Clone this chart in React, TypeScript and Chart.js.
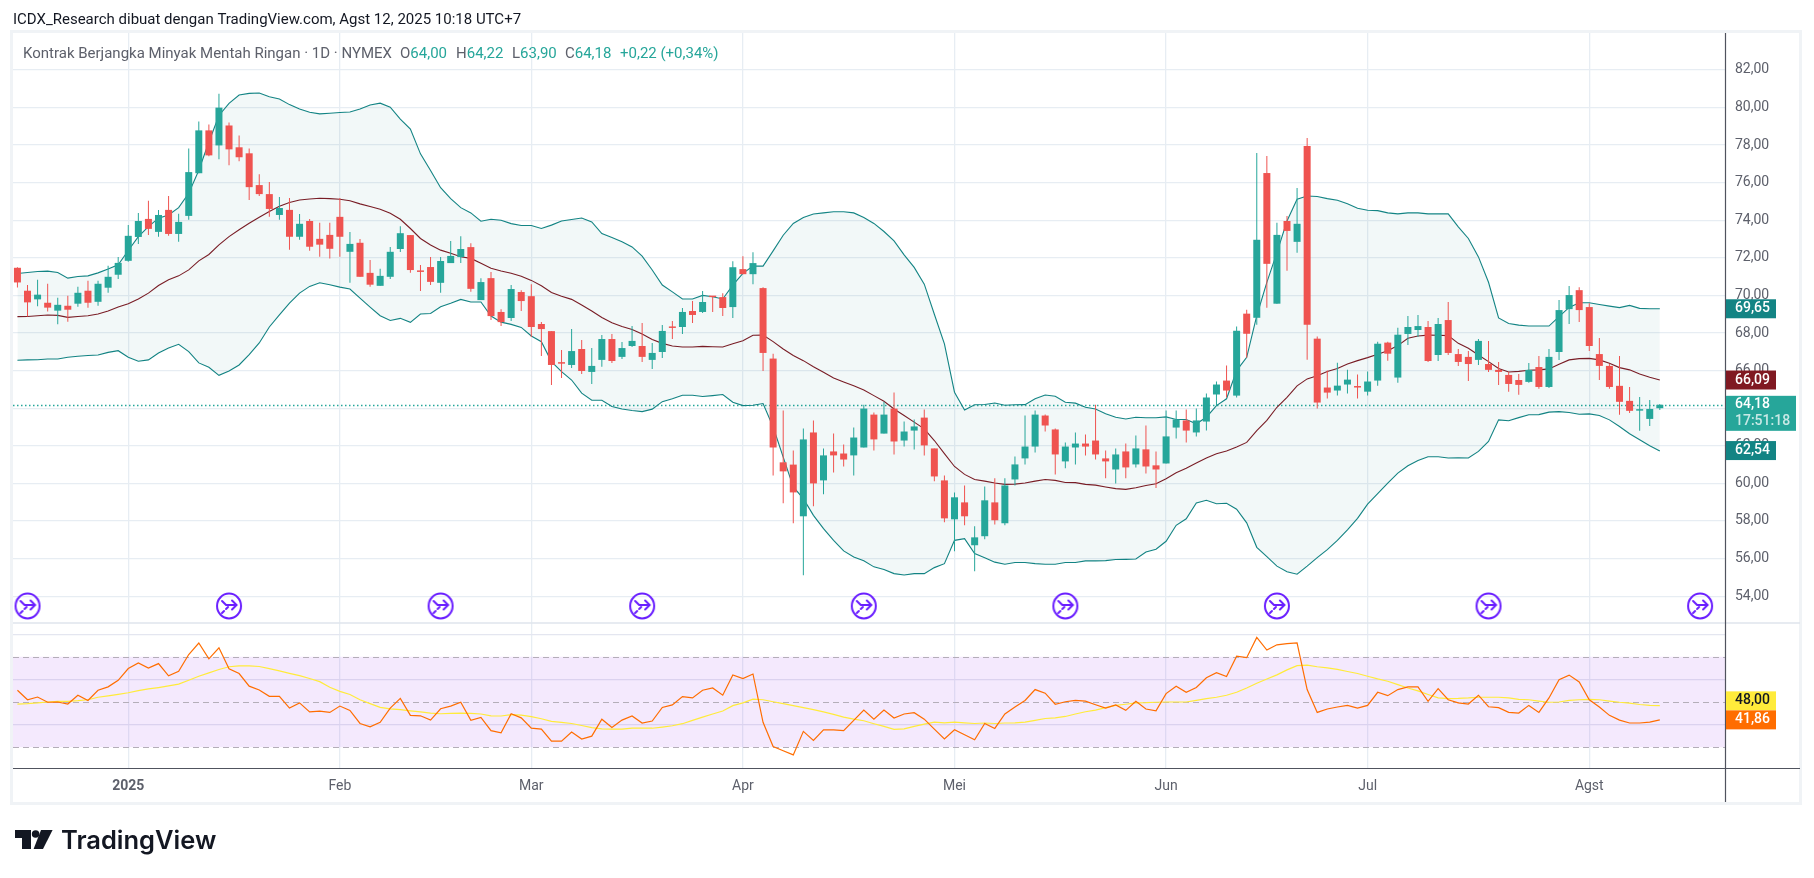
import React, { useEffect, useRef } from "react";
import { Chart, registerables } from "chart.js";

Chart.register(...registerables);

const firstBar = -11;
const monthBars = [0, 21, 40, 61, 82, 103, 123, 145];
const monthLabels = ["2025", "Feb", "Mar", "Apr", "Mei", "Jun", "Jul", "Agst"];
const priceTicks = [82, 80, 78, 76, 74, 72, 70, 68, 66, 64, 62, 60, 58, 56, 54];
const rsiTicks = [80, 60, 40];
const eventBars = [-10, 10, 31, 51, 73, 93, 114, 135, 156];
const eventPrice = 53.48;

const opens = [
  71.47, 70.25, 69.79, 69.61, 69.19, 69.45, 69.56, 70.25, 69.66, 70.41, 71.1,
  71.84, 73.11, 74.07, 73.38, 74.55, 73.27, 74.23, 76.5, 78.78, 77.98,
  79.04, 77.88, 77.56, 75.87, 75.39, 74.28, 74.55, 73.12, 73.96, 73.01,
  73.22, 74.18, 72.32, 72.8, 71.2, 70.51, 70.99, 72.47, 73.21, 71.29,
  71.51, 70.67, 71.72, 72.04, 72.57, 69.75, 70.92, 69.12, 68.8, 70.18,
  69.96, 68.48, 68.1, 66.41, 66.3, 67.15, 65.93, 66.57, 67.68, 66.73,
  67.31, 67.31, 66.57, 66.99, 68.32, 68.32, 69.17, 69.12, 69.96, 69.91,
  69.38, 71.4, 71.13, 70.39, 66.64, 61.12, 61.0, 58.25, 62.71, 60.16,
  61.7, 61.59, 61.49, 61.91, 63.66, 62.65, 63.98, 62.28, 62.81, 63.5,
  61.86, 60.16, 58.09, 58.99, 56.71, 57.19, 58.99, 57.88, 60.21, 61.33,
  61.96, 63.61, 62.87, 61.17, 61.91, 62.12, 62.28, 61.33, 60.74, 61.7,
  61.01, 61.81, 60.96, 61.06, 62.97, 63.35, 62.71, 63.29, 64.73, 65.47,
  64.67, 69.03, 68.81, 76.51, 69.56, 73.96, 72.85, 77.95, 67.7, 65.1,
  64.94, 65.26, 65.15, 64.88, 65.47, 67.49, 65.63, 67.95, 68.16, 68.32,
  66.83, 68.69, 66.88, 66.73, 66.57, 66.35, 66.04, 65.77, 65.5, 65.4,
  66.19, 65.13, 66.99, 69.27, 70.28, 69.38, 66.88, 66.25, 65.19, 64.39,
  63.87, 63.43, 64.0,
];
const highs = [
  71.5, 70.55, 70.83, 70.62, 69.88, 69.98, 70.46, 70.78, 70.78, 71.58, 72.05,
  73.75, 74.39, 75.03, 74.55, 75.29, 74.34, 77.82, 79.25, 79.09, 80.73,
  79.2, 78.51, 77.82, 76.45, 76.03, 75.23, 75.18, 74.33, 74.07, 73.86,
  73.86, 75.18, 73.38, 73.0, 71.89, 71.42, 72.58, 73.68, 73.21, 71.62,
  72.04, 72.04, 72.89, 73.15, 72.78, 70.92, 71.24, 69.27, 70.55, 70.28,
  70.6, 68.58, 68.1, 67.1, 68.21, 67.63, 67.2, 67.89, 67.95, 67.52,
  68.37, 68.53, 67.47, 68.42, 68.64, 69.33, 69.7, 70.23, 69.96, 70.12,
  71.82, 72.09, 72.3, 70.44, 66.9, 63.88, 61.75, 62.92, 63.35, 61.86,
  62.65, 62.07, 62.97, 64.19, 63.77, 64.35, 64.83, 63.29, 63.4, 63.93,
  61.86, 60.42, 59.52, 59.89, 57.72, 59.84, 60.27, 60.27, 61.43, 63.61,
  63.88, 63.66, 62.92, 62.18, 62.71, 62.6, 64.19, 61.75, 61.86, 62.12,
  62.55, 63.08, 61.7, 63.88, 63.88, 63.93, 63.98, 64.78, 65.42, 66.27,
  68.34, 69.24, 77.58, 77.42, 73.86, 74.23, 75.72, 78.37, 67.81, 66.0,
  66.42, 66.05, 65.79, 65.95, 67.54, 67.54, 68.28, 68.9, 68.96, 68.64,
  68.8, 69.65, 67.15, 67.04, 67.68, 67.58, 66.46, 65.93, 65.82, 66.41,
  66.78, 67.15, 69.75, 70.5, 70.44, 69.59, 67.73, 66.35, 66.78, 65.13,
  64.6, 64.44, 64.22,
];
const lows = [
  70.42, 68.88, 69.42, 69.15, 68.46, 68.6, 69.4, 69.35, 69.45, 70.14, 70.88,
  71.79, 72.74, 73.22, 73.12, 73.17, 72.85, 74.02, 76.5, 77.4, 77.24,
  76.93, 77.14, 75.07, 75.29, 74.18, 74.02, 72.43, 72.96, 72.38, 72.06,
  71.96, 72.06, 70.67, 70.99, 70.46, 70.51, 70.88, 72.31, 71.2, 70.24,
  70.56, 70.14, 71.72, 71.72, 70.19, 69.75, 68.69, 68.37, 68.64, 69.17,
  67.79, 66.78, 65.24, 65.61, 66.14, 65.82, 65.29, 66.2, 66.41, 66.62,
  67.26, 66.46, 66.09, 66.67, 67.68, 67.95, 68.53, 69.06, 69.12, 68.9,
  68.8, 71.13, 70.6, 65.98, 60.42, 58.94, 57.88, 55.12, 58.78, 59.42,
  60.58, 60.9, 60.42, 61.91, 61.75, 62.65, 61.54, 61.96, 61.8, 61.49,
  60.11, 57.93, 56.39, 57.77, 55.33, 57.03, 57.82, 57.77, 59.89, 61.01,
  61.65, 62.76, 60.48, 60.8, 61.01, 61.49, 61.27, 60.27, 60.0, 60.27,
  60.85, 60.53, 59.76, 61.06, 62.39, 62.18, 62.5, 62.81, 64.14, 64.57,
  64.57, 66.69, 68.44, 69.35, 69.56, 71.31, 72.27, 66.58, 63.98, 64.51,
  64.67, 64.78, 64.51, 64.67, 65.2, 66.53, 65.36, 67.36, 67.79, 66.46,
  66.51, 66.83, 66.25, 65.45, 66.3, 65.93, 65.24, 64.87, 64.71, 65.35,
  65.03, 65.08, 66.57, 68.48, 68.58, 67.04, 65.5, 65.03, 63.65, 63.75,
  62.8, 63.06, 63.9,
];
const closes = [
  70.69, 69.63, 70.04, 69.35, 69.5, 69.24, 70.14, 69.61, 70.62, 70.99, 71.73,
  73.17, 73.96, 73.54, 74.28, 73.27, 73.91, 76.56, 78.78, 77.45, 79.99,
  77.77, 77.35, 75.76, 75.39, 74.6, 74.65, 73.12, 73.81, 72.59, 72.7,
  72.48, 73.12, 72.74, 70.99, 70.57, 71.04, 72.32, 73.31, 71.35, 71.25,
  70.72, 71.83, 72.1, 72.47, 70.35, 70.71, 68.9, 68.58, 70.34, 69.7,
  68.32, 68.21, 66.3, 66.37, 67.04, 65.98, 66.25, 67.68, 66.51, 67.2,
  67.58, 66.73, 66.94, 68.11, 68.27, 69.12, 68.96, 69.65, 69.91, 69.33,
  71.5, 71.13, 71.72, 66.94, 61.91, 60.64, 59.52, 62.34, 60.0, 61.49,
  61.49, 61.27, 62.44, 63.98, 62.34, 63.66, 62.23, 62.76, 63.03, 62.02,
  60.37, 58.14, 59.26, 58.25, 57.13, 59.1, 58.04, 59.89, 61.01, 61.96,
  63.66, 63.08, 61.54, 61.96, 62.12, 61.96, 61.54, 61.17, 61.54, 60.85,
  61.86, 60.9, 60.74, 62.5, 63.4, 62.81, 63.35, 64.57, 65.26, 64.94,
  68.12, 67.96, 72.96, 71.68, 73.22, 73.43, 73.81, 68.44, 64.3, 64.83,
  65.2, 65.52, 65.1, 65.42, 67.43, 66.9, 67.91, 68.32, 68.37, 66.51,
  68.48, 66.94, 66.46, 66.35, 67.58, 66.04, 65.93, 65.29, 65.24, 66.04,
  65.13, 66.73, 69.22, 70.02, 69.22, 67.31, 66.25, 65.13, 64.34, 63.86,
  63.91, 63.96, 64.18,
];
const bbUpper = [
  71.17, 71.22, 71.27, 71.29, 71.22, 70.92, 71.01, 71.04, 71.2, 71.4, 71.63,
  72.39, 73.13, 73.66, 74.11, 74.28, 74.67, 75.43, 76.66, 78.16, 79.57,
  80.22, 80.66, 80.75, 80.77, 80.57, 80.45, 80.15, 79.92, 79.74, 79.66,
  79.69, 79.73, 79.76, 79.92, 80.13, 80.23, 80.01, 79.38, 78.85, 77.53,
  76.65, 75.73, 75.15, 74.67, 74.39, 73.95, 74.05, 74.0, 73.82, 73.72,
  73.72, 73.56, 73.74, 73.96, 74.04, 74.12, 73.91, 73.29, 73.08, 72.85,
  72.58, 72.09, 71.35, 70.55, 70.19, 69.81, 69.81, 70.0, 69.93, 69.81,
  70.55, 71.17, 71.56, 71.56, 72.37, 73.2, 73.83, 74.14, 74.33, 74.39,
  74.45, 74.45, 74.39, 74.14, 73.83, 73.4, 72.9, 72.16, 71.49, 70.6,
  69.0, 67.42, 64.85, 63.91, 64.18, 64.2, 64.28, 64.16, 64.18, 64.19,
  64.5, 64.7, 64.64, 64.32, 64.27, 64.05, 63.96, 63.7, 63.52, 63.43,
  63.52, 63.49, 63.49, 63.54, 63.4, 63.4, 63.17, 63.52, 64.14, 64.5,
  66.0, 66.71, 68.92, 70.69, 72.28, 73.96, 75.12, 75.29, 75.26, 75.15,
  75.06, 74.88, 74.64, 74.53, 74.51, 74.39, 74.34, 74.39, 74.39, 74.34,
  74.34, 74.34, 73.65, 73.03, 72.05, 70.7, 68.8, 68.51, 68.42, 68.37,
  68.37, 68.37, 68.87, 69.36, 69.61, 69.61, 69.52, 69.43, 69.35, 69.47,
  69.31, 69.29, 69.29,
];
const bbBasis = [
  68.87, 68.88, 68.92, 68.96, 68.94, 68.83, 68.88, 68.92, 69.01, 69.17, 69.38,
  69.56, 69.81, 70.12, 70.53, 70.83, 71.04, 71.36, 71.84, 72.18, 72.69,
  73.13, 73.49, 73.84, 74.16, 74.46, 74.74, 74.94, 75.08, 75.13, 75.17,
  75.15, 75.12, 75.04, 74.87, 74.73, 74.58, 74.37, 74.05, 73.56, 73.03,
  72.68, 72.41, 72.24, 72.06, 71.97, 71.71, 71.44, 71.3, 71.18, 71.02,
  70.8, 70.51, 70.16, 69.96, 69.79, 69.49, 69.17, 68.83, 68.55, 68.35,
  68.19, 67.95, 67.66, 67.45, 67.31, 67.26, 67.26, 67.29, 67.27, 67.26,
  67.43, 67.59, 67.88, 67.89, 67.54, 67.15, 66.8, 66.53, 66.21, 65.91,
  65.61, 65.4, 65.2, 64.97, 64.67, 64.37, 63.96, 63.61, 63.26, 62.9,
  62.28, 61.58, 60.9, 60.48, 60.21, 60.12, 60.02, 59.95, 59.96, 60.02,
  60.12, 60.21, 60.16, 60.05, 60.04, 59.95, 59.91, 59.81, 59.72, 59.68,
  59.77, 59.89, 59.98, 60.25, 60.57, 60.8, 61.08, 61.35, 61.58, 61.72,
  61.93, 62.18, 62.81, 63.35, 64.05, 64.58, 65.19, 65.56, 65.73, 65.95,
  66.11, 66.35, 66.53, 66.69, 66.87, 67.06, 67.33, 67.72, 67.84, 67.89,
  67.88, 67.86, 67.45, 67.19, 66.83, 66.48, 66.11, 65.93, 65.96, 66.02,
  66.04, 66.09, 66.34, 66.57, 66.64, 66.65, 66.57, 66.39, 66.16, 66.04,
  65.82, 65.65, 65.5,
];
const bbLower = [
  66.55, 66.57, 66.58, 66.62, 66.62, 66.71, 66.76, 66.8, 66.83, 66.97, 67.06,
  66.71, 66.5, 66.57, 66.94, 67.2, 67.4, 67.01, 66.41, 66.18, 65.75,
  65.98, 66.3, 66.85, 67.47, 68.32, 68.97, 69.59, 70.12, 70.48, 70.67,
  70.57, 70.44, 70.34, 69.86, 69.38, 68.92, 68.67, 68.78, 68.57, 69.01,
  69.04, 69.4, 69.58, 69.79, 69.65, 69.65, 68.9, 68.58, 68.46, 68.3,
  67.84, 67.54, 66.48, 65.95, 65.5, 64.8, 64.42, 64.42, 64.09, 63.96,
  63.88, 63.82, 63.95, 64.35, 64.5, 64.69, 64.69, 64.62, 64.67, 64.73,
  64.32, 64.14, 64.16, 64.25, 63.0, 61.4, 59.81, 59.19, 58.3, 57.59,
  56.97, 56.41, 56.09, 55.88, 55.56, 55.42, 55.2, 55.13, 55.2, 55.2,
  55.52, 55.73, 56.97, 57.06, 56.27, 56.05, 55.81, 55.7, 55.79, 55.79,
  55.73, 55.7, 55.7, 55.79, 55.79, 55.88, 55.88, 55.89, 55.95, 55.96,
  55.98, 56.35, 56.5, 56.92, 57.77, 58.12, 58.96, 59.1, 58.92, 58.94,
  58.63, 57.9, 56.6, 56.1, 55.6, 55.3, 55.17, 55.6, 56.05, 56.48,
  56.97, 57.53, 58.14, 58.9, 59.45, 60.02, 60.55, 60.94, 61.22, 61.42,
  61.42, 61.35, 61.36, 61.35, 61.7, 62.23, 63.38, 63.33, 63.5, 63.65,
  63.66, 63.79, 63.82, 63.77, 63.68, 63.7, 63.61, 63.38, 63.03, 62.64,
  62.32, 62.0, 61.72,
];
const rsiValues = [
  55.2, 51, 52.2, 49.9, 50, 49.1, 53, 50.7, 55.2, 56.7, 59.6,
  64.8, 67.3, 65, 67, 61.6, 63.6, 71, 76.1, 69.1, 74,
  64.7, 62.6, 57, 55.3, 52.5, 52.5, 47.3, 49.6, 45.6, 46,
  45.4, 48.2, 46.3, 40.5, 39, 41, 47.3, 51.6, 44.1, 43.9,
  42, 47, 48.2, 49.9, 41.9, 43.2, 37.3, 36.4, 44.8, 43,
  38.4, 38, 32.7, 32.7, 36.7, 33.6, 34.9, 42.4, 38.7, 42,
  43.8, 40.7, 41.6, 47.6, 48.7, 52.4, 51.8, 55.2, 56.2, 53,
  62, 60.4, 62.4, 41, 30.3, 28.4, 26.6, 37, 33, 37.7,
  37.7, 37.3, 41.9, 46.4, 42.4, 46.4, 42.9, 44.7, 45.3, 42.4,
  38, 33.7, 37.7, 35.5, 33.3, 40.5, 38.3, 44.7, 47.8, 50.7,
  55.5, 53.9, 49, 50.1, 50.7, 50.4, 48.8, 47.3, 48.7, 46.3,
  50.3, 46.9, 46.1, 53.7, 57, 54.3, 56.4, 60.7, 63, 61.3,
  70.3, 69.6, 78.6, 73, 75.3, 75.8, 76.2, 55.5, 45.4, 46.9,
  47.8, 48.5, 47.3, 48.5, 54.3, 52.8, 55.5, 56.7, 56.7, 50.3,
  55.9, 51, 49.6, 49.1, 53, 47.9, 47.5, 45.4, 45.1, 48.5,
  45.4, 51.8, 59.9, 61.9, 58.9, 51, 47.8, 44.1, 42, 40.7,
  40.7, 41.1, 42.1,
];
const rsiMa = [
  49.1, 49.3, 49.6, 50, 50.3, 50.3, 50.6, 51, 52.1, 52.7, 53.4,
  54.1, 55, 55.8, 56.4, 57.1, 57.9, 59.6, 61.4, 62.9, 64.4,
  65.6, 66, 66, 65.7, 64.8, 63.8, 62.7, 61.7, 60.4, 59,
  56.5, 54.7, 53.3, 51, 49.3, 47.6, 47, 46.6, 46.1, 45.6,
  45.1, 44.8, 45, 45.1, 45, 44.7, 43.9, 43.8, 44.4, 44.2,
  43.5, 42.6, 41.4, 41, 40.5, 39.6, 38.7, 38.1, 38, 38,
  38.4, 38.4, 38.4, 38.9, 39.5, 40.4, 41.9, 43.3, 44.7, 46,
  48.4, 49.6, 51.3, 51, 50.1, 49.3, 48.4, 47.5, 46.6, 45.6,
  44.5, 43.3, 42.4, 41.7, 40.4, 39.2, 37.9, 38.1, 39.2, 40.2,
  41.1, 40.8, 41.1, 40.8, 40.5, 40.7, 40.5, 40.7, 40.8, 41.1,
  41.9, 42.7, 43, 43.6, 44.7, 45.7, 46.4, 47.5, 48.5, 49,
  49.6, 49.7, 49.9, 50, 50, 50, 50.7, 51.5, 52.1, 53,
  54.3, 56.2, 58.3, 60.2, 62, 64.2, 66.1, 66.3, 65.6, 65.1,
  64.4, 63.5, 62.6, 61.4, 60.2, 59.2, 57.7, 56.2, 54.9, 53.3,
  51.8, 51.5, 51.6, 51.8, 52.1, 52.1, 52.1, 51.8, 51.2, 51,
  50.4, 49.9, 50, 50.7, 51, 51.2, 51, 50.4, 49.9, 49.5,
  48.9, 48.5, 48.4,
];
const rsiLevels = [70, 50, 30];

const titleText = "ICDX_Research dibuat dengan TradingView.com, Agst 12, 2025 10:18 UTC+7";
const symbolText = "Kontrak Berjangka Minyak Mentah Ringan · 1D · NYMEX";
const ohlcLetters = ["O", "H", "L", "C"];
const ohlcValues = ["64,00", "64,22", "63,90", "64,18"];
const changeText = "+0,22 (+0,34%)";
const chipUpper = "69,65";
const chipBasis = "66,09";
const chipLast = "64,18";
const chipTimer = "17:51:18";
const chipLower = "62,54";
const chipMa = "48,00";
const chipRsi = "41,86";

const UP = "#26a69a";
const DOWN = "#ef5350";
const GRID = "#e7edf3";
const AXIS = "#50535e";
const TEXT = "#5d606b";
const BAND = "#138484";
const FONT = "Roboto";

const toSeries = (vals: number[]) => vals.map((y, k) => ({ x: firstBar + k, y }));
const candleColor = closes.map((c, k) => (c >= opens[k] ? UP : DOWN));

function makeEventIcon(): HTMLCanvasElement {
  const c = document.createElement("canvas");
  c.width = 30;
  c.height = 30;
  const g = c.getContext("2d")!;
  g.translate(15, 15);
  g.strokeStyle = "#6a1fff";
  g.lineWidth = 2;
  g.lineCap = "round";
  g.beginPath();
  g.ellipse(0, 0, 12, 12.4, 0, 0, Math.PI * 2);
  g.stroke();
  g.beginPath();
  g.moveTo(-7, -5);
  g.lineTo(-3, -1);
  g.lineTo(7, -1);
  g.moveTo(3, -5.5);
  g.lineTo(7.5, -1);
  g.lineTo(3, 3.5);
  g.moveTo(-1, 1);
  g.lineTo(-3, 3);
  g.moveTo(-5, 5);
  g.lineTo(-7, 7);
  g.stroke();
  return c;
}

const pane = {
  id: "pane",
  beforeDraw(chart: any) {
    const g = chart.ctx;
    g.save();
    g.fillStyle = "#ffffff";
    g.fillRect(0, 0, chart.width, chart.height);
    g.strokeStyle = "#f0f3f6";
    g.lineWidth = 3;
    g.strokeRect(11.5, 31.5, 1789, 772);
    g.restore();
  },
  beforeDatasetsDraw(chart: any) {
    const g = chart.ctx;
    const { left, right } = chart.chartArea;
    const r = chart.scales.y2;
    const y = chart.scales.y;
    g.save();
    g.fillStyle = "rgba(150,40,240,0.1)";
    const top = r.getPixelForValue(rsiLevels[0]);
    const bot = r.getPixelForValue(rsiLevels[2]);
    g.fillRect(left, top, right - left, bot - top);
    g.strokeStyle = "#b4aeb9";
    g.lineWidth = 1;
    g.setLineDash([6, 4]);
    rsiLevels.forEach((v) => {
      const p = Math.round(r.getPixelForValue(v)) + 0.5;
      g.beginPath();
      g.moveTo(left, p);
      g.lineTo(right, p);
      g.stroke();
    });
    g.setLineDash([1.5, 2.5]);
    g.lineWidth = 1.3;
    g.strokeStyle = UP;
    const p = Math.round(y.getPixelForValue(closes[closes.length - 1])) + 0.5;
    g.beginPath();
    g.moveTo(left, p);
    g.lineTo(right, p);
    g.stroke();
    g.restore();
  },
  afterDraw(chart: any) {
    const g = chart.ctx;
    const { left, right, bottom } = chart.chartArea;
    const y = chart.scales.y;
    const r = chart.scales.y2;
    g.save();
    // pane separator and axes
    g.strokeStyle = "#dfe4ec";
    g.lineWidth = 1.5;
    g.beginPath();
    g.moveTo(left, 623);
    g.lineTo(1800, 623);
    g.stroke();
    g.strokeStyle = AXIS;
    g.lineWidth = 1.2;
    g.beginPath();
    g.moveTo(left, bottom + 0.5);
    g.lineTo(1800, bottom + 0.5);
    g.moveTo(right + 0.5, 33);
    g.lineTo(right + 0.5, 802);
    g.stroke();

    // price chips
    const chip = (cy: number, h: number, w: number, bg: string) => {
      g.fillStyle = bg;
      g.fillRect(right + 1, cy - h / 2, w, h);
    };
    const label = (t: string, cy: number, color: string) => {
      g.fillStyle = color;
      g.font = `500 14px ${FONT}`;
      g.textAlign = "left";
      g.textBaseline = "middle";
      g.fillText(t, right + 10, cy);
    };
    const cUp = y.getPixelForValue(bbUpper[bbUpper.length - 1]);
    const cMid = y.getPixelForValue(bbBasis[bbBasis.length - 1]);
    const cLow = y.getPixelForValue(bbLower[bbLower.length - 1]);
    const cLast = y.getPixelForValue(closes[closes.length - 1]);
    chip(cUp, 19, 50, BAND);
    label(chipUpper, cUp, "#ffffff");
    chip(cMid, 19, 50, "#801922");
    label(chipBasis, cMid, "#ffffff");
    chip(cLast + 8.5, 35, 70, UP);
    label(chipLast, cLast - 0.5, "#ffffff");
    label(chipTimer, cLast + 17, "rgba(255,255,255,0.75)");
    chip(cLow - 0.5, 19, 50, BAND);
    label(chipLower, cLow - 0.5, "#ffffff");
    const cRsi = r.getPixelForValue(rsiValues[rsiValues.length - 1]);
    chip(cRsi - 19, 19, 50, "#ffeb3b");
    label(chipMa, cRsi - 19, "#131722");
    chip(cRsi, 19, 50, "#ff6d00");
    label(chipRsi, cRsi, "#ffffff");

    // header lines
    g.textBaseline = "middle";
    g.textAlign = "left";
    g.font = `15px ${FONT}`;
    g.fillStyle = "#131722";
    g.fillText(titleText, 13, 20);
    g.font = `15px ${FONT}`;
    g.fillStyle = TEXT;
    g.fillText(symbolText, 23, 54);
    const xs = [400, 456, 512, 565];
    ohlcLetters.forEach((l, k) => {
      g.fillStyle = TEXT;
      g.fillText(l, xs[k], 54);
      const w = g.measureText(l).width;
      g.fillStyle = UP;
      g.fillText(ohlcValues[k], xs[k] + w, 54);
    });
    g.fillStyle = UP;
    g.fillText(changeText, 620, 54);

    // wordmark
    g.fillStyle = "#131722";
    g.beginPath();
    g.moveTo(15, 830);
    g.lineTo(31, 830);
    g.lineTo(31, 849);
    g.lineTo(22, 849);
    g.lineTo(22, 838);
    g.lineTo(15, 838);
    g.closePath();
    g.fill();
    g.beginPath();
    g.arc(35.6, 834, 3.8, 0, Math.PI * 2);
    g.fill();
    g.beginPath();
    g.moveTo(41, 830);
    g.lineTo(52.6, 830);
    g.lineTo(43, 849);
    g.lineTo(33.6, 849);
    g.closePath();
    g.fill();
    g.font = `600 25.5px Inter`;
    g.fillText("TradingView", 61, 841);
    g.restore();
  },
};

export default function App() {
  const ref = useRef<HTMLCanvasElement>(null);
  useEffect(() => {
    const chart = new Chart(ref.current!, {
      type: "bar",
      plugins: [pane],
      data: {
        datasets: [
          {
            type: "scatter",
            data: eventBars.map((x) => ({ x, y: eventPrice })),
            pointStyle: makeEventIcon() as any,
            showLine: false,
            yAxisID: "y",
            order: 0,
          },
          {
            type: "bar",
            data: opens.map((o, k) => ({ x: firstBar + k, y: [o, closes[k]] })),
            backgroundColor: candleColor,
            barThickness: 7,
            grouped: false,
            minBarLength: 1.5,
            inflateAmount: 0,
            yAxisID: "y",
            order: 1,
          },
          {
            type: "bar",
            data: lows.map((l, k) => ({ x: firstBar + k, y: [l, highs[k]] })),
            backgroundColor: candleColor,
            barThickness: 1,
            grouped: false,
            inflateAmount: 0,
            yAxisID: "y",
            order: 2,
          },
          {
            type: "line",
            data: toSeries(bbUpper),
            borderColor: BAND,
            borderWidth: 1.1,
            pointRadius: 0,
            backgroundColor: "rgba(0,120,120,0.05)",
            fill: { target: 5 },
            yAxisID: "y",
            order: 3,
          },
          {
            type: "line",
            data: toSeries(bbBasis),
            borderColor: "#801922",
            borderWidth: 1.1,
            pointRadius: 0,
            yAxisID: "y",
            order: 3,
          },
          {
            type: "line",
            data: toSeries(bbLower),
            borderColor: BAND,
            borderWidth: 1.1,
            pointRadius: 0,
            yAxisID: "y",
            order: 3,
          },
          {
            type: "line",
            data: toSeries(rsiMa),
            borderColor: "#ffeb3b",
            borderWidth: 1.2,
            pointRadius: 0,
            yAxisID: "y2",
            order: 4,
          },
          {
            type: "line",
            data: toSeries(rsiValues),
            borderColor: "#ff6d00",
            borderWidth: 1.2,
            pointRadius: 0,
            yAxisID: "y2",
            order: 3.5,
          },
        ] as any,
      },
      options: {
        animation: false,
        responsive: false,
        devicePixelRatio: 1,
        events: [],
        layout: {
          autoPadding: false,
          padding: { left: 13, top: 33, right: 12, bottom: 75 },
        },
        plugins: { legend: { display: false }, tooltip: { enabled: false } },
        scales: {
          x: {
            type: "linear",
            min: -11.44,
            max: 158.47,
            offset: false,
            afterFit: (s: any) => {
              s.height = 35;
            },
            afterBuildTicks: (s: any) => {
              s.ticks = monthBars.map((value) => ({ value }));
            },
            grid: { color: GRID, offset: false, drawTicks: false, lineWidth: 1.3 },
            border: { display: false },
            ticks: {
              autoSkip: false,
              maxRotation: 0,
              padding: 10,
              color: TEXT,
              font: (c: any) =>
                c.tick && c.tick.value === 0
                  ? { family: FONT, size: 14, weight: "bold" }
                  : { family: FONT, size: 14 },
              callback: (v: any) => monthLabels[monthBars.indexOf(v)],
            },
          },
          y: {
            type: "linear",
            position: "right",
            min: 44.86,
            max: 83.96,
            weight: 1,
            afterFit: (s: any) => {
              s.width = 77;
            },
            afterBuildTicks: (s: any) => {
              s.ticks = priceTicks.map((value) => ({ value }));
            },
            grid: { color: GRID, drawTicks: false, lineWidth: 1.3 },
            border: { display: false },
            ticks: {
              padding: 10,
              color: TEXT,
              autoSkip: false,
              font: { family: FONT, size: 14 },
              callback: (v: any) => Number(v).toFixed(2).replace(".", ","),
            },
          },
          y2: {
            type: "linear",
            position: "right",
            min: 20.8,
            max: 346,
            weight: -1,
            afterFit: (s: any) => {
              s.width = 0;
            },
            afterBuildTicks: (s: any) => {
              s.ticks = rsiTicks.map((value) => ({ value }));
            },
            grid: { color: "#e4e6f0", drawTicks: false, lineWidth: 1.3 },
            border: { display: false },
            ticks: {
              padding: 10,
              color: TEXT,
              autoSkip: false,
              font: { family: FONT, size: 14 },
              callback: (v: any) => Number(v).toFixed(2).replace(".", ","),
            },
          },
        },
      } as any,
    });
    return () => chart.destroy();
  }, []);
  return (
    <div style={{ position: "fixed", left: 0, top: 0, width: 1814, height: 878, background: "#fff" }}>
      <canvas ref={ref} width={1814} height={878} style={{ display: "block", width: 1814, height: 878 }} />
    </div>
  );
}
